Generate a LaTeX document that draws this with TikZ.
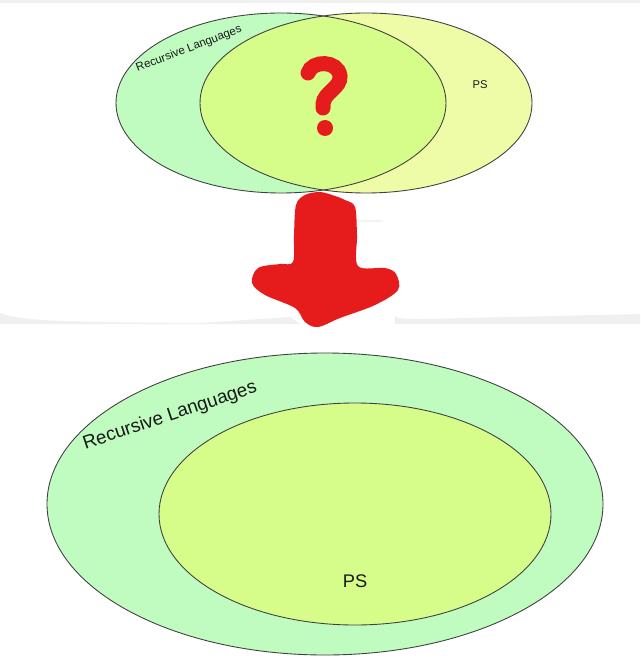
\documentclass[tikz,border=0pt]{standalone}
\usepackage{fontspec}
\setmainfont{Liberation Sans}
\definecolor{rlgreen}{RGB}{192,251,192}
\definecolor{psyellow}{RGB}{238,252,168}
\definecolor{lime}{RGB}{214,252,138}
\definecolor{marker}{RGB}{230,28,28}
\definecolor{sheet}{RGB}{240,240,240}
\tikzset{
  setline/.style={draw=black!75, line width=0.5pt},
  setlabel/.style={inner sep=0pt, text=black!90}
}
\begin{document}
\begin{tikzpicture}[x=0.02cm, y=-0.02cm]
\useasboundingbox (0,0) rectangle (640,665);
\fill[white] (0,0) rectangle (640,665);
\fill[sheet] (0,0) rectangle (640,3);
\fill[sheet] (0,313) .. controls (20,321) and (60,322) .. (200,323) -- (290,317) -- (300,324) -- (0,324) -- cycle;
\fill[sheet] (395,316) .. controls (400,319) .. (425,319) -- (640,314) -- (640,324) -- (395,324) -- cycle;
\draw[sheet!80!black!20, line width=0.6pt] (358,221) -- (383,221);
% before: two overlapping sets
\coordinate (L) at (281,103);
\coordinate (R) at (366,103);
\fill[rlgreen] (L) ellipse [x radius=165, y radius=90];
\fill[psyellow] (R) ellipse [x radius=166, y radius=90];
\begin{scope}
\clip (L) ellipse [x radius=165, y radius=90];
\fill[lime] (R) ellipse [x radius=166, y radius=90];
\end{scope}
\draw[setline] (L) ellipse [x radius=165, y radius=90];
\draw[setline] (R) ellipse [x radius=166, y radius=90];
\node[setlabel, rotate=21, font=\fontsize{6.6}{8}\selectfont] (rl1) at (189,49) {Recursive Languages};
\node[setlabel, font=\fontsize{6.4}{8}\selectfont] (ps1) at (480,85) {PS};
\draw[marker, line width=0.3cm, line cap=round] (308,73) .. controls (312,60) and (338,60) .. (340,76) .. controls (341,88) and (324,92) .. (323,104) -- (323,108);
\fill[marker] (325,128) circle (8);
% the red arrow
\fill[marker] plot[smooth cycle, tension=0.55] coordinates {
  (296,205) (305,195) (320,192) (335,196) (345,200) (355,207) (357,235)
  (358,266) (385,268) (396,274) (398,290) (375,305) (340,318) (318,327)
  (305,322) (295,308) (265,295) (252,283) (258,268) (280,264) (293,262) (294,235)};
% after: PS inside the recursive languages
\coordinate (O) at (325,504);
\coordinate (I) at (355,514);
\filldraw[setline, fill=rlgreen] (O) ellipse [x radius=278, y radius=151];
\filldraw[setline, fill=lime] (I) ellipse [x radius=196, y radius=111];
\node[setlabel, rotate=18.5, font=\fontsize{10.7}{12}\selectfont] (rl2) at (170,416) {Recursive Languages};
\node[setlabel, font=\fontsize{10.4}{12}\selectfont] (ps2) at (355,581) {PS};
\end{tikzpicture}
\end{document}
